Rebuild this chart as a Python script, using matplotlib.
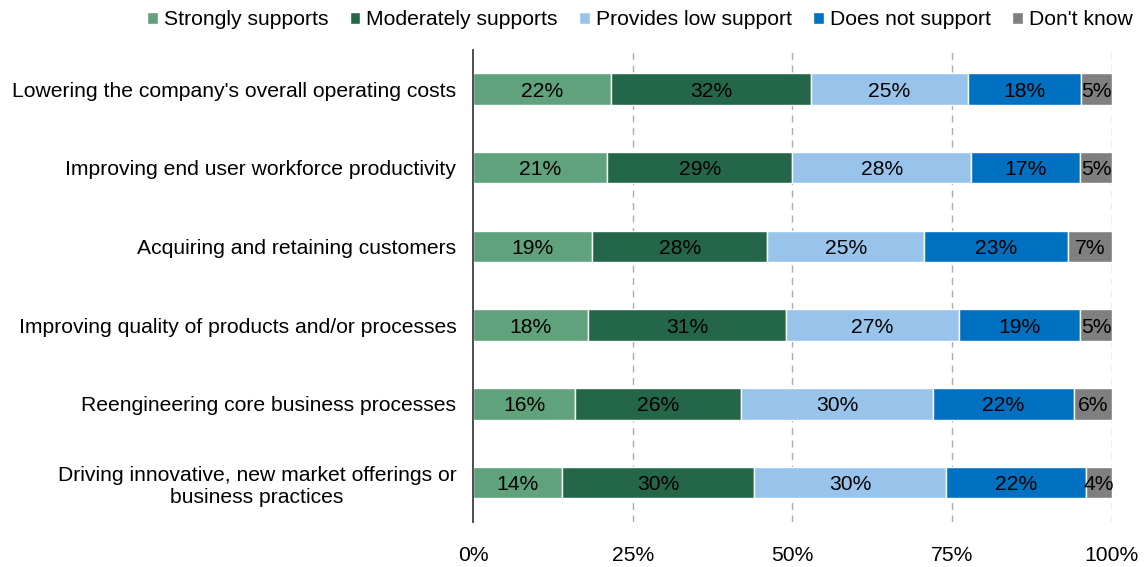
import numpy as np
import matplotlib.pyplot as plt

plt.rcParams['font.family'] = ['Liberation Sans', 'DejaVu Sans']

categories = [
    "Lowering the company's overall operating costs",
    "Improving end user workforce productivity",
    "Acquiring and retaining customers",
    "Improving quality of products and/or processes",
    "Reengineering core business processes",
    "Driving innovative, new market offerings or\nbusiness practices",
]
series = ["Strongly supports", "Moderately supports", "Provides low support",
          "Does not support", "Don't know"]
strongly = [22, 21, 19, 18, 16, 14]
moderately = [32, 29, 28, 31, 26, 30]
low = [25, 28, 25, 27, 30, 30]
not_support = [18, 17, 23, 19, 22, 22]
dont_know = [5, 5, 7, 5, 6, 4]
xticklabels = ["0%", "25%", "50%", "75%", "100%"]

colors = ["#5FA27C", "#236649", "#98C4EC", "#0070C0", "#7F7F7F"]
fs = 15.2

data = np.array([strongly, moderately, low, not_support, dont_know], dtype=float)
# bars are drawn as share of the row total (labels are rounded values)
shares = data / data.sum(axis=0) * 100

fig = plt.figure(figsize=(11.46, 5.67), dpi=100)
ax = fig.add_axes([0.4127, 0.0794, 0.5576, 0.833])

y = np.arange(len(categories))
left = np.zeros(len(categories))
for i in range(len(series)):
    ax.barh(y, shares[i], left=left, height=0.4, color=colors[i],
            edgecolor='white', linewidth=1, label=series[i], zorder=3)
    for j in range(len(categories)):
        ax.text(left[j] + shares[i][j] / 2, y[j], f"{int(data[i][j])}%",
                ha='center', va='center_baseline', fontsize=fs, color='black', zorder=4)
    left += shares[i]

ax.set_xlim(0, 100)
ax.set_ylim(len(categories) - 0.5, -0.5)
ax.set_xticks([0, 25, 50, 75, 100])
ax.set_xticklabels(xticklabels, fontsize=fs)
ax.set_yticks(y)
ax.set_yticklabels(categories, fontsize=fs, multialignment='center')
ax.tick_params(axis='x', length=0, pad=17)
ax.tick_params(axis='y', length=0, pad=12)

for v in [25, 50, 75, 100]:
    ax.axvline(v, color='#ABABAB', linestyle=(0, (5, 4)), linewidth=1, zorder=1)

for s in ['top', 'right', 'bottom']:
    ax.spines[s].set_visible(False)
ax.spines['left'].set_color('#404040')
ax.spines['left'].set_linewidth(1.3)
ax.spines['left'].set_zorder(5)

fig.legend(loc='upper right', bbox_to_anchor=(1.005, 1.015), ncol=5, frameon=False,
           fontsize=fs, handlelength=0.5, handleheight=0.5, handletextpad=0.3,
           columnspacing=1.0)

fig.savefig('out.png', dpi=100)
